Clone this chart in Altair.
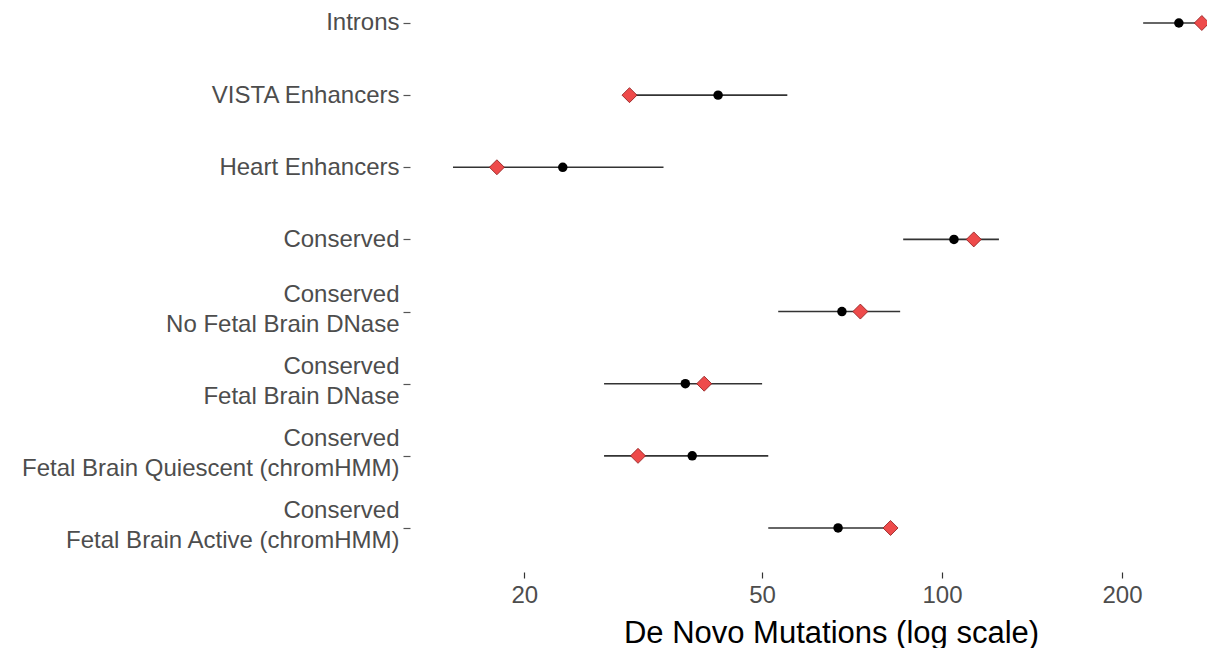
import altair as alt
import pandas as pd

categories = [
    "Introns",
    "VISTA Enhancers",
    "Heart Enhancers",
    "Conserved",
    "Conserved\nNo Fetal Brain DNase",
    "Conserved\nFetal Brain DNase",
    "Conserved\nFetal Brain Quiescent (chromHMM)",
    "Conserved\nFetal Brain Active (chromHMM)",
]
expected = [249, 42.2, 23.2, 104.7, 68.0, 37.2, 38.2, 67.0]
ci_low = [217, 30.5, 15.2, 86.1, 53.2, 27.2, 27.2, 51.2]
ci_high = [282, 55.1, 34.2, 124.5, 85.1, 50.0, 51.2, 83.0]
observed = [272, 30, 18, 113, 73, 40, 31, 82]
x_ticks = [20, 50, 100, 200]

df = pd.DataFrame({
    "region": categories,
    "expected": expected,
    "lo": ci_low,
    "hi": ci_high,
    "observed": observed,
})

xscale = alt.Scale(type="log", domain=[12.88, 277.5], nice=False)
yscale = alt.Scale(type="point", padding=0.409, align=0.254, domain=categories)

xaxis = alt.Axis(
    values=x_ticks, title="De Novo Mutations (log scale)", grid=False, domain=False,
    tickSize=6, tickColor="#333333", tickWidth=1.2,
    labelFont="Liberation Sans", labelFontSize=24, labelColor="#4D4D4D", labelPadding=5,
    labelBaseline="top", labelFlush=False,
    titleFont="Liberation Sans", titleFontSize=31, titleFontWeight="normal", titleColor="#000000",
    titleX=421, titleY=70, titleAlign="center", titleBaseline="alphabetic",
)
yaxis = alt.Axis(
    title=None, grid=False, domain=False,
    tickSize=7, tickColor="#555555", tickWidth=1.2,
    labelFont="Liberation Sans", labelFontSize=24, labelColor="#4D4D4D", labelPadding=4,
    labelExpr="split(datum.label, '\\n')", labelLineHeight=30, labelLimit=0,
    labelAlign="right", labelBaseline="middle",
    labelOffset={"condition": {"test": "indexof(datum.value, '\\n') >= 0", "value": -17}, "value": 0},
)

base = alt.Chart(df)

bars = base.mark_rule(color="#333333", strokeWidth=1.6).encode(
    x=alt.X("lo:Q", scale=xscale, axis=xaxis),
    x2="hi:Q",
    y=alt.Y("region:N", scale=yscale, sort=categories, axis=yaxis),
)
circles = base.mark_point(shape="circle", filled=True, color="#000000", size=90, opacity=1).encode(
    x=alt.X("expected:Q", scale=xscale),
    y=alt.Y("region:N", scale=yscale, sort=categories),
)
diamonds = base.mark_point(
    shape="diamond", filled=True, fill="#EE4B4B", stroke="#8B1A1A", strokeWidth=0.8, size=225, opacity=1
).encode(
    x=alt.X("observed:Q", scale=xscale),
    y=alt.Y("region:N", scale=yscale, sort=categories),
)

chart = alt.layer(bars, circles, diamonds).properties(
    width=797,
    height=564,
    autosize=alt.AutoSizeParams(type="none"),
    padding={"left": 402, "top": 0, "right": 0, "bottom": 76},
    background="#FFFFFF",
).configure_view(stroke=None)

chart.save("out.html", embed_options={"renderer": "svg", "actions": False})
